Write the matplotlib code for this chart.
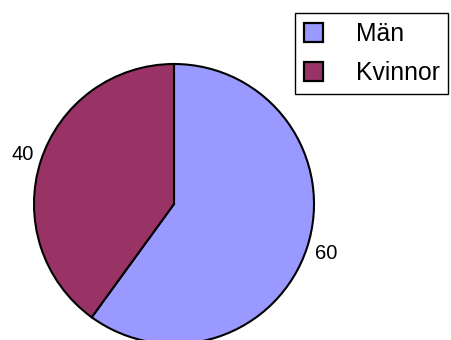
import matplotlib.pyplot as plt
from matplotlib.patches import Patch

plt.rcParams['font.family'] = ['Liberation Sans', 'DejaVu Sans']

# Fördelning män / kvinnor
categories = ['Män', 'Kvinnor']
values = [60, 40]
colors = ['#9999FF', '#993366']

fig = plt.figure(figsize=(4.51, 3.40), dpi=100)
ax = fig.add_axes([34 / 451, 1 - 344 / 340, 280 / 451, 280 / 340])

total = sum(values)
wedges, _, texts = ax.pie(values, colors=colors, startangle=90, counterclock=False,
                          radius=1.0, autopct=lambda p: f'{p * total / 100:.0f}',
                          pctdistance=1.14,
                          wedgeprops=dict(edgecolor='black', linewidth=1.5))
for t in texts:
    t.set_fontsize(14.5)
ax.set_xlim(-1, 1)
ax.set_ylim(-1, 1)
ax.axis('off')

handles = [Patch(facecolor=c, edgecolor='black', linewidth=1.6) for c in colors]
leg = fig.legend(handles, categories, loc='upper left',
                 bbox_to_anchor=(295 / 451, 1 - 13 / 340),
                 fontsize=17.8, frameon=True, fancybox=False, framealpha=1,
                 edgecolor='black', handlelength=0.8, handleheight=0.8,
                 handletextpad=1.3, borderpad=0.35, labelspacing=0.62,
                 borderaxespad=0)
leg.get_frame().set_linewidth(1.0)

fig.savefig('out.png', dpi=100)
